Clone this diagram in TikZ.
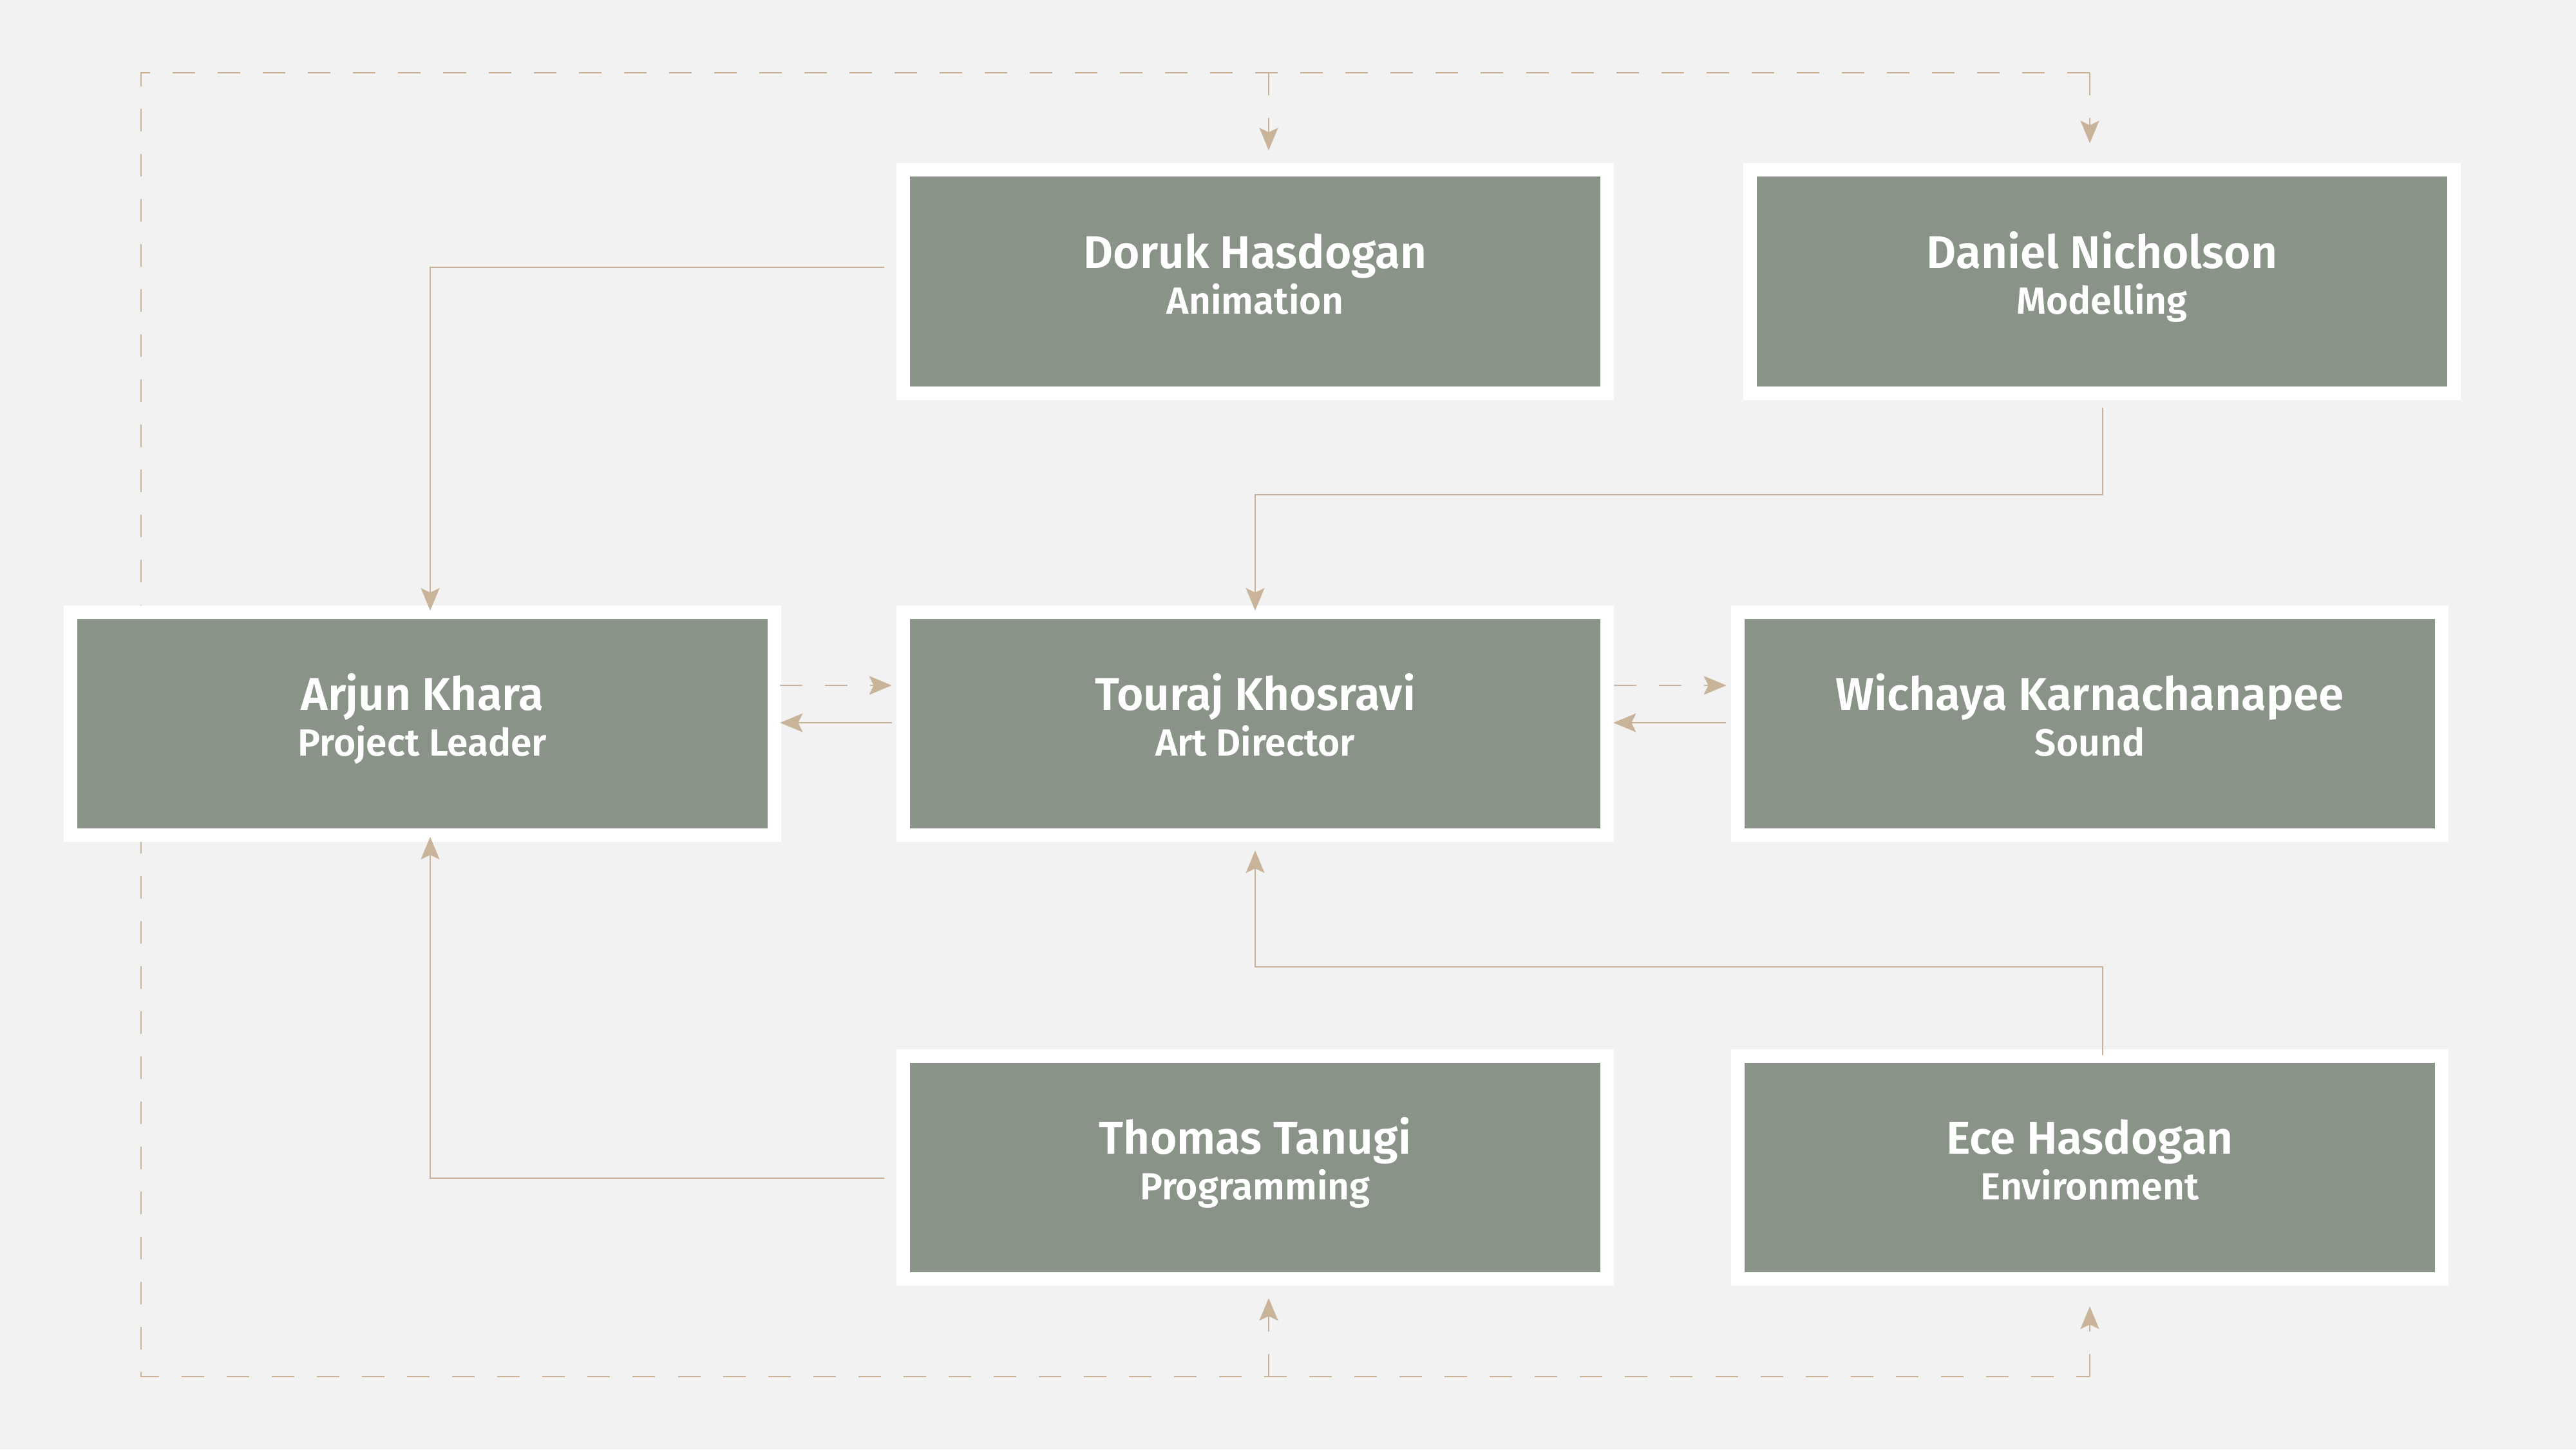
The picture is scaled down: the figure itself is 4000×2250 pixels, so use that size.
\documentclass[tikz,border=0pt]{standalone}
\usepackage{fontspec}
\setmainfont{Fira Sans}[BoldFont={Fira Sans SemiBold}]
\usetikzlibrary{arrows.meta,calc}
\definecolor{bgc}{HTML}{F2F2F2}
\definecolor{boxc}{HTML}{8A9387}
\definecolor{linec}{HTML}{C9B49A}
\tikzset{
  card/.style={fill=boxc, draw=white, line width=0.21cm, minimum width=10.93cm, minimum height=3.46cm, inner sep=0pt, outer sep=0.105cm},
  nametext/.style={anchor=base, text=white, font=\fontsize{20.2}{24}\selectfont\bfseries, inner sep=0pt},
  roletext/.style={anchor=base, text=white, font=\fontsize{16.7}{20}\selectfont\bfseries, inner sep=0pt},
  link/.style={draw=linec, line width=0.02cm, -{Stealth[length=0.35cm, width=0.29cm, inset=0.07cm]}},
  dashlink/.style={link, dash pattern=on 0.35cm off 0.35cm},
  dashplain/.style={draw=linec, line width=0.02cm, dash pattern=on 0.35cm off 0.35cm}
}
\begin{document}
\begin{tikzpicture}[x=0.01cm, y=-0.01cm]
\fill[bgc] (0,0) rectangle (4000,2250);
\useasboundingbox (0,0) rectangle (4000,2250);

% dashed loop (drawn first, hidden behind cards)
\coordinate (tl) at (219,113);
\coordinate (bl) at (219,2137);
\coordinate (tr) at (3245,113);
\coordinate (br) at (3245,2137);
\coordinate (tm) at (1970,113);
\coordinate (bm) at (1970,2137);
\draw[dashplain] (tr) -- (tl) -- (bl) -- (br);

% cards
\node[card] (doruk) at (1949,437) {};
\node[card] (daniel) at (3264,437) {};
\node[card] (arjun) at (656,1123.5) {};
\node[card] (touraj) at (1949,1123.5) {};
\node[card] (wichaya) at (3245,1123.5) {};
\node[card] (thomas) at (1949,1812.5) {};
\node[card] (ece) at (3245,1812.5) {};

% texts
\node[nametext] (doruk-n) at (1949,416) {Doruk Hasdogan};
\node[roletext] (doruk-r) at (1949,487) {Animation};
\node[nametext] (daniel-n) at (3264,416) {Daniel Nicholson};
\node[roletext] (daniel-r) at (3264,487) {Modelling};
\node[nametext] (arjun-n) at (656,1102.5) {Arjun Khara};
\node[roletext] (arjun-r) at (656,1173.5) {Project Leader};
\node[nametext] (touraj-n) at (1949,1102.5) {Touraj Khosravi};
\node[roletext] (touraj-r) at (1949,1173.5) {Art Director};
\node[nametext] (wichaya-n) at (3245,1102.5) {Wichaya Karnachanapee};
\node[roletext] (wichaya-r) at (3245,1173.5) {Sound};
\node[nametext] (thomas-n) at (1949,1791.5) {Thomas Tanugi};
\node[roletext] (thomas-r) at (1949,1862.5) {Programming};
\node[nametext] (ece-n) at (3245,1791.5) {Ece Hasdogan};
\node[roletext] (ece-r) at (3245,1862.5) {Environment};

% dashed branches
\draw[dashlink] (tm) -- ($(doruk.north)+(21,-20)$);
\draw[dashlink] (tr) -- ($(daniel.north)+(-19,-31)$);
\draw[dashlink] (bm) -- ($(thomas.south)+(21,19)$);
\draw[dashlink] (br) -- ($(ece.south)+(0,32)$);

% horizontal pairs
\draw[dashlink] ($(arjun.east)+(-2,-59.5)$) -- ($(touraj.west)+(-7,-59.5)$);
\draw[link] ($(touraj.west)+(-7,-1.5)$) -- ($(arjun.east)+(-2,-1.5)$);
\draw[dashlink] ($(touraj.east)+(0,-59.5)$) -- ($(wichaya.west)+(-7,-59.5)$);
\draw[link] ($(wichaya.west)+(-8,-1.5)$) -- ($(touraj.east)+(-1,-1.5)$);

% elbow connectors
\draw[link] ($(doruk.west)+(-19,-22)$) -| ($(arjun.north)+(12,8)$);
\draw[link] ($(thomas.west)+(-19,16.5)$) -| ($(arjun.south)+(12,-8)$);
\draw[link] ($(daniel.south)+(1,12)$) -- ++(0,135) -| ($(touraj.north)+(0,8)$);
\draw[link] ($(ece.north)+(20,9)$) -- ++(0,-137) -| ($(touraj.south)+(0,13)$);
\end{tikzpicture}
\end{document}
